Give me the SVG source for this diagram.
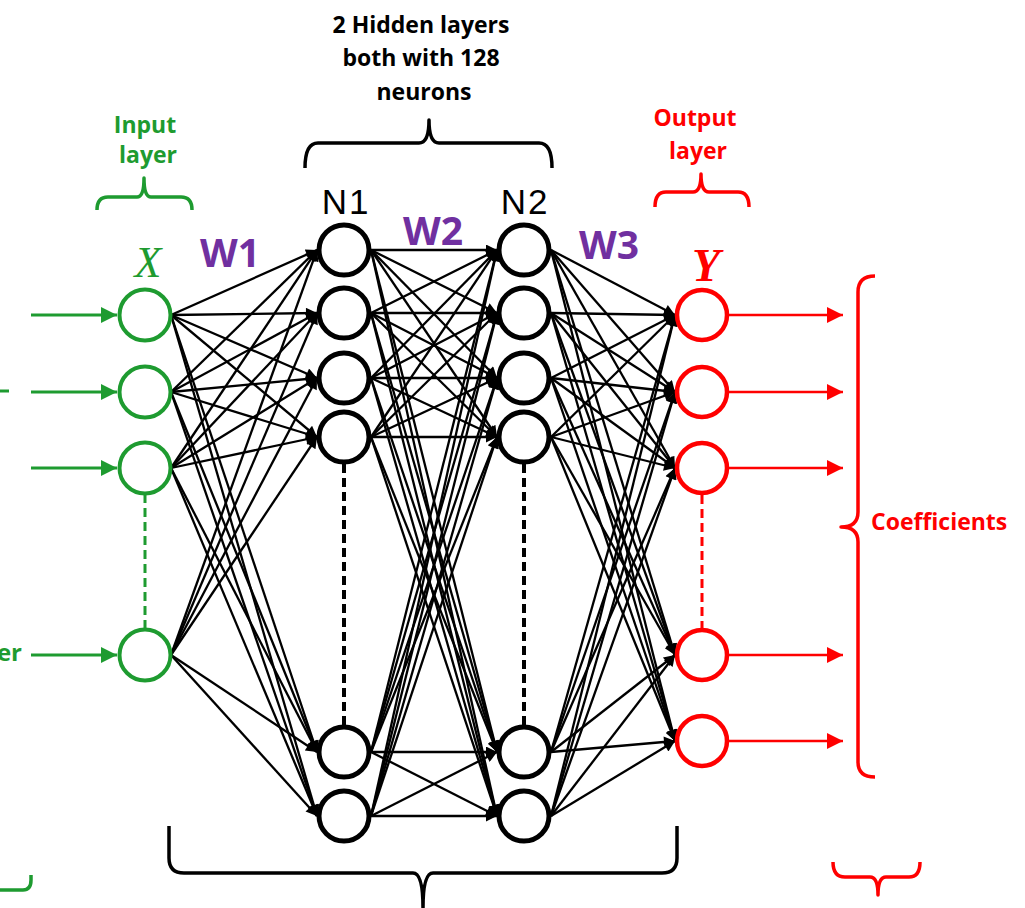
<svg xmlns="http://www.w3.org/2000/svg" width="1025" height="908" viewBox="0 0 1025 908">
  <style>
    .lbl { font-family: "Open Sans", "Liberation Sans", sans-serif; font-weight: 700; }
    .green { fill: #1e9b30; }
    .red { fill: #ff0000; }
    .purple { fill: #7030a0; font-size: 39px; }
    .hid { font-family: "Liberation Sans", Arial, sans-serif; font-size: 35px; letter-spacing: 2px; fill: #000; }
    .brace { fill: none; stroke-width: 3.5; stroke-linecap: butt; stroke-linejoin: round; }
    .e line { stroke: #000; stroke-width: 2.3; marker-end: url(#ah); }
    .nb { fill: #fff; stroke: #000; stroke-width: 5; }
    .ng { fill: #fff; stroke: #1e9b30; stroke-width: 4; }
    .nr { fill: #fff; stroke: #ff0000; stroke-width: 4.5; }
  </style>
  <defs>
    <marker id="ah" viewBox="0 0 10 10" refX="10" refY="5" markerWidth="15" markerHeight="11" markerUnits="userSpaceOnUse" orient="auto">
      <path d="M0,0 L10,5 L0,10 z" fill="#000"/>
    </marker>
    <marker id="ahg" viewBox="0 0 10 10" refX="10" refY="5" markerWidth="16" markerHeight="16" markerUnits="userSpaceOnUse" orient="auto">
      <path d="M0,0 L10,5 L0,10 z" fill="#1e9b30"/>
    </marker>
    <marker id="ahr" viewBox="0 0 10 10" refX="10" refY="5" markerWidth="16" markerHeight="16" markerUnits="userSpaceOnUse" orient="auto">
      <path d="M0,0 L10,5 L0,10 z" fill="#ff0000"/>
    </marker>
  </defs>
  <rect width="1025" height="908" fill="#fff"/>

  <!-- heading fragment at the top edge -->
  <text x="122" y="-5" class="lbl" font-size="20" fill="#5a87aa">g</text>

  <!-- captions and braces -->
  <g id="hidden-caption">
    <text class="lbl" font-size="23" text-anchor="middle" fill="#000">
      <tspan x="424" y="33">2 Hidden layers</tspan>
      <tspan x="424" y="66">both with 128</tspan>
      <tspan x="424" y="100">neurons</tspan>
    </text>
    <path class="brace" stroke="#000" d="M305,168 Q305,143 318,143 H419 Q429,143 429,120 Q429,143 439,143 H539 Q552,143 552,168"/>
  </g>
  <g id="input-caption">
    <text class="lbl green" font-size="23" text-anchor="middle">
      <tspan x="148" y="133">Input</tspan>
      <tspan x="148" y="163">layer</tspan>
    </text>
    <path class="brace" stroke="#1e9b30" d="M97,210 Q97,197 108,197 H137 Q144,197 144,178 Q144,197 151,197 H181 Q192,197 192,210"/>
  </g>
  <g id="output-caption">
    <text class="lbl red" font-size="23" text-anchor="middle">
      <tspan x="698" y="126">Output</tspan>
      <tspan x="698" y="159">layer</tspan>
    </text>
    <path class="brace" stroke="#ff0000" d="M655,207 Q655,192 666,192 H693 Q701,192 701,174 Q701,192 709,192 H738 Q749,192 749,207"/>
  </g>
  <g id="coefficients">
    <path class="brace" stroke="#ff0000" stroke-width="3" d="M875,276 Q858,276 858,292 V512 Q858,527 841,527 Q858,527 858,542 V762 Q858,777 875,777"/>
    <text x="871" y="530" class="lbl red" font-size="23">Coefficients</text>
  </g>
  <g id="bottom-braces">
    <path class="brace" stroke="#000" d="M169,826 V858 Q169,873 184,873 H413 Q423,873 423,908 Q423,873 433,873 H662 Q677,873 677,858 V826"/>
    <path class="brace" stroke="#ff0000" d="M833,862 Q833,877 845,877 H870 Q878,877 878,895 Q878,877 886,877 H909 Q920,877 920,862"/>
    <path class="brace" stroke="#1e9b30" d="M0,890 H23 Q31,890 31,880 V875"/>
  </g>
  <g id="left-fragments">
    <path d="M0,391 H9" stroke="#1e9b30" stroke-width="3"/>
    <text x="22" y="661" class="lbl green" font-size="24" text-anchor="end">er</text>
  </g>

  <!-- layer symbols -->
  <text x="148" y="277" font-family="Liberation Serif, serif" font-style="italic" font-size="44" text-anchor="middle" fill="#1e9b30">X</text>
  <text x="706" y="281" font-family="Liberation Serif, serif" font-style="italic" font-weight="700" font-size="46" text-anchor="middle" fill="#ff0000">Y</text>
  <text x="230" y="267" class="lbl purple" text-anchor="middle">W1</text>
  <text x="433" y="245" class="lbl purple" text-anchor="middle">W2</text>
  <text x="609" y="259" class="lbl purple" text-anchor="middle">W3</text>
  <text x="346" y="214" class="hid" text-anchor="middle">N1</text>
  <text x="525" y="214" class="hid" text-anchor="middle">N2</text>

  <!-- connectors -->
  <g id="connectors">
    <g id="inputs" stroke="#1e9b30" stroke-width="3">
      <line x1="31" y1="315" x2="117" y2="315" marker-end="url(#ahg)"/>
      <line x1="31" y1="392" x2="117" y2="392" marker-end="url(#ahg)"/>
      <line x1="31" y1="468" x2="117" y2="468" marker-end="url(#ahg)"/>
      <line x1="31" y1="655" x2="117" y2="655" marker-end="url(#ahg)"/>
    </g>
    <g id="outputs" stroke="#ff0000" stroke-width="2.5">
      <line x1="729" y1="315" x2="843" y2="315" marker-end="url(#ahr)"/>
      <line x1="729" y1="392" x2="843" y2="392" marker-end="url(#ahr)"/>
      <line x1="729" y1="468" x2="843" y2="468" marker-end="url(#ahr)"/>
      <line x1="729" y1="655" x2="843" y2="655" marker-end="url(#ahr)"/>
      <line x1="729" y1="741" x2="843" y2="741" marker-end="url(#ahr)"/>
    </g>
    <g id="w1" class="e">
      <line x1="171" y1="315" x2="317" y2="250"/><line x1="171" y1="315" x2="317" y2="313"/><line x1="171" y1="315" x2="317" y2="378"/><line x1="171" y1="315" x2="317" y2="437"/><line x1="171" y1="315" x2="317" y2="752"/><line x1="171" y1="315" x2="317" y2="816"/>
      <line x1="171" y1="392" x2="317" y2="250"/><line x1="171" y1="392" x2="317" y2="313"/><line x1="171" y1="392" x2="317" y2="378"/><line x1="171" y1="392" x2="317" y2="437"/><line x1="171" y1="392" x2="317" y2="752"/><line x1="171" y1="392" x2="317" y2="816"/>
      <line x1="171" y1="468" x2="317" y2="250"/><line x1="171" y1="468" x2="317" y2="313"/><line x1="171" y1="468" x2="317" y2="378"/><line x1="171" y1="468" x2="317" y2="437"/><line x1="171" y1="468" x2="317" y2="752"/><line x1="171" y1="468" x2="317" y2="816"/>
      <line x1="171" y1="655" x2="317" y2="250"/><line x1="171" y1="655" x2="317" y2="313"/><line x1="171" y1="655" x2="317" y2="378"/><line x1="171" y1="655" x2="317" y2="437"/><line x1="171" y1="655" x2="317" y2="752"/><line x1="171" y1="655" x2="317" y2="816"/>
    </g>
    <g id="w2" class="e">
      <line x1="371" y1="250" x2="497" y2="250"/><line x1="371" y1="250" x2="497" y2="313"/><line x1="371" y1="250" x2="497" y2="378"/><line x1="371" y1="250" x2="497" y2="437"/><line x1="371" y1="250" x2="497" y2="752"/><line x1="371" y1="250" x2="497" y2="816"/>
      <line x1="371" y1="313" x2="497" y2="250"/><line x1="371" y1="313" x2="497" y2="313"/><line x1="371" y1="313" x2="497" y2="378"/><line x1="371" y1="313" x2="497" y2="437"/><line x1="371" y1="313" x2="497" y2="752"/><line x1="371" y1="313" x2="497" y2="816"/>
      <line x1="371" y1="378" x2="497" y2="250"/><line x1="371" y1="378" x2="497" y2="313"/><line x1="371" y1="378" x2="497" y2="378"/><line x1="371" y1="378" x2="497" y2="437"/><line x1="371" y1="378" x2="497" y2="752"/><line x1="371" y1="378" x2="497" y2="816"/>
      <line x1="371" y1="437" x2="497" y2="250"/><line x1="371" y1="437" x2="497" y2="313"/><line x1="371" y1="437" x2="497" y2="378"/><line x1="371" y1="437" x2="497" y2="437"/><line x1="371" y1="437" x2="497" y2="752"/><line x1="371" y1="437" x2="497" y2="816"/>
      <line x1="371" y1="752" x2="497" y2="250"/><line x1="371" y1="752" x2="497" y2="313"/><line x1="371" y1="752" x2="497" y2="378"/><line x1="371" y1="752" x2="497" y2="437"/><line x1="371" y1="752" x2="497" y2="752"/><line x1="371" y1="752" x2="497" y2="816"/>
      <line x1="371" y1="816" x2="497" y2="250"/><line x1="371" y1="816" x2="497" y2="313"/><line x1="371" y1="816" x2="497" y2="378"/><line x1="371" y1="816" x2="497" y2="437"/><line x1="371" y1="816" x2="497" y2="752"/><line x1="371" y1="816" x2="497" y2="816"/>
    </g>
    <g id="w3" class="e">
      <line x1="551" y1="250" x2="675" y2="315"/><line x1="551" y1="250" x2="675" y2="392"/><line x1="551" y1="250" x2="675" y2="468"/><line x1="551" y1="250" x2="675" y2="655"/><line x1="551" y1="250" x2="675" y2="741"/>
      <line x1="551" y1="313" x2="675" y2="315"/><line x1="551" y1="313" x2="675" y2="392"/><line x1="551" y1="313" x2="675" y2="468"/><line x1="551" y1="313" x2="675" y2="655"/><line x1="551" y1="313" x2="675" y2="741"/>
      <line x1="551" y1="378" x2="675" y2="315"/><line x1="551" y1="378" x2="675" y2="392"/><line x1="551" y1="378" x2="675" y2="468"/><line x1="551" y1="378" x2="675" y2="655"/><line x1="551" y1="378" x2="675" y2="741"/>
      <line x1="551" y1="437" x2="675" y2="315"/><line x1="551" y1="437" x2="675" y2="392"/><line x1="551" y1="437" x2="675" y2="468"/><line x1="551" y1="437" x2="675" y2="655"/><line x1="551" y1="437" x2="675" y2="741"/>
      <line x1="551" y1="752" x2="675" y2="315"/><line x1="551" y1="752" x2="675" y2="392"/><line x1="551" y1="752" x2="675" y2="468"/><line x1="551" y1="752" x2="675" y2="655"/><line x1="551" y1="752" x2="675" y2="741"/>
      <line x1="551" y1="816" x2="675" y2="315"/><line x1="551" y1="816" x2="675" y2="392"/><line x1="551" y1="816" x2="675" y2="468"/><line x1="551" y1="816" x2="675" y2="655"/><line x1="551" y1="816" x2="675" y2="741"/>
    </g>
    <!-- elided neurons -->
    <g id="ellipsis" fill="none">
      <line x1="145" y1="494" x2="145" y2="628" stroke="#1e9b30" stroke-width="3" stroke-dasharray="9 5"/>
      <line x1="344" y1="464" x2="344" y2="725" stroke="#000" stroke-width="4" stroke-dasharray="9 5"/>
      <line x1="524" y1="464" x2="524" y2="725" stroke="#000" stroke-width="4" stroke-dasharray="9 5"/>
      <line x1="702" y1="495" x2="702" y2="628" stroke="#ff0000" stroke-width="3" stroke-dasharray="9 5"/>
    </g>
  </g>

  <!-- input layer -->
  <g id="in1"><circle class="ng" cx="145" cy="315" r="25.5"/></g>
  <g id="in2"><circle class="ng" cx="145" cy="392" r="25.5"/></g>
  <g id="in3"><circle class="ng" cx="145" cy="468" r="25.5"/></g>
  <g id="in4"><circle class="ng" cx="145" cy="655" r="25.5"/></g>
  <!-- hidden layer N1 -->
  <g id="h1a"><circle class="nb" cx="344" cy="250" r="25"/></g>
  <g id="h1b"><circle class="nb" cx="344" cy="313" r="25"/></g>
  <g id="h1c"><circle class="nb" cx="344" cy="378" r="25"/></g>
  <g id="h1d"><circle class="nb" cx="344" cy="437" r="25"/></g>
  <g id="h1e"><circle class="nb" cx="344" cy="752" r="25"/></g>
  <g id="h1f"><circle class="nb" cx="344" cy="816" r="25"/></g>
  <!-- hidden layer N2 -->
  <g id="h2a"><circle class="nb" cx="524" cy="250" r="25"/></g>
  <g id="h2b"><circle class="nb" cx="524" cy="313" r="25"/></g>
  <g id="h2c"><circle class="nb" cx="524" cy="378" r="25"/></g>
  <g id="h2d"><circle class="nb" cx="524" cy="437" r="25"/></g>
  <g id="h2e"><circle class="nb" cx="524" cy="752" r="25"/></g>
  <g id="h2f"><circle class="nb" cx="524" cy="816" r="25"/></g>
  <!-- output layer -->
  <g id="out1"><circle class="nr" cx="702" cy="315" r="25"/></g>
  <g id="out2"><circle class="nr" cx="702" cy="392" r="25"/></g>
  <g id="out3"><circle class="nr" cx="702" cy="468" r="25"/></g>
  <g id="out4"><circle class="nr" cx="702" cy="655" r="25"/></g>
  <g id="out5"><circle class="nr" cx="702" cy="741" r="25"/></g>
</svg>
